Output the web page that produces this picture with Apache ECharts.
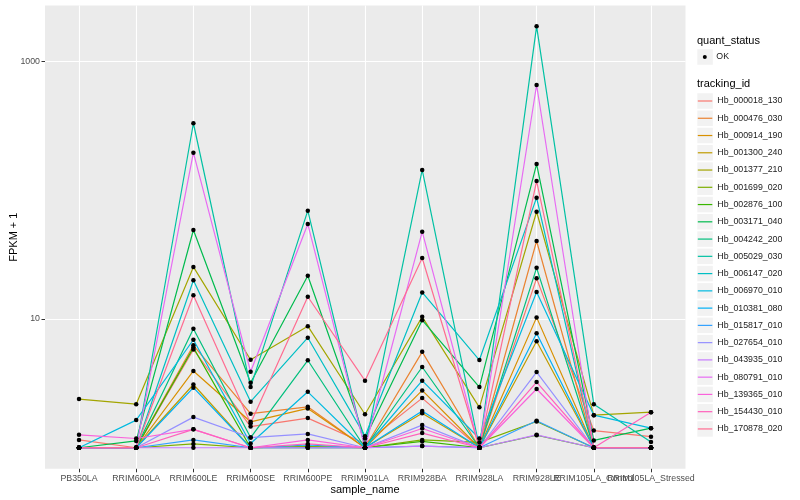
<!DOCTYPE html>
<html>
<head>
<meta charset="utf-8">
<script src="https://cdn.jsdelivr.net/npm/echarts@6.0.0/dist/echarts.min.js"></script>
<style>html,body{margin:0;padding:0;background:#fff}#c{width:800px;height:500px}</style>
</head>
<body>
<div id="c"></div>
<script>
var categories = ['PB350LA','RRIM600LA','RRIM600LE','RRIM600SE','RRIM600PE','RRIM901LA','RRIM928BA','RRIM928LA','RRIM928LE','RRIM105LA_Control','RRIM105LA_Stressed'];
var trackingIds = ['Hb_000018_130','Hb_000476_030','Hb_000914_190','Hb_001300_240','Hb_001377_210','Hb_001699_020','Hb_002876_100','Hb_003171_040','Hb_004242_200','Hb_005029_030','Hb_006147_020','Hb_006970_010','Hb_010381_080','Hb_015817_010','Hb_027654_010','Hb_043935_010','Hb_080791_010','Hb_139365_010','Hb_154430_010','Hb_170878_020'];
var colors = ['#F8766D','#EA8331','#D89000','#C09B00','#A3A500','#7CAE00','#39B600','#00BB4E','#00BF7D','#00C1A3','#00BFC4','#00BAE0','#00B0F6','#35A2FF','#9590FF','#C77CFF','#E76BF3','#FA62DB','#FF62BC','#FF6C91'];
var yTickLabels = [10, 1000];

var v_000018_130 = [1.15, 1.0, 5.8, 1.46, 1.70, 1.08, 2.43, 1.0, 20.7, 1.36, 1.22];
var v_000476_030 = [1.0, 1.0, 6.25, 1.84, 2.08, 1.0, 5.56, 1.0, 40.4, 1.0, 1.0];
var v_000914_190 = [1.0, 1.0, 3.95, 1.59, 2.02, 1.0, 2.79, 1.0, 10.3, 1.0, 1.0];
var v_001300_240 = [1.0, 1.0, 3.1, 1.0, 1.02, 1.0, 1.85, 1.0, 6.71, 1.0, 1.0];
var v_001377_210 = [2.39, 2.18, 25.4, 4.83, 8.8, 1.82, 10.4, 2.06, 68.2, 1.79, 1.89];
var v_001699_020 = [1.0, 1.0, 1.07, 1.0, 1.02, 1.0, 1.15, 1.1, 1.6, 1.0, 1.0];
var v_002876_100 = [1.0, 1.0, 6.0, 1.0, 1.0, 1.0, 1.12, 1.0, 1.25, 1.0, 1.0];
var v_003171_040 = [1.0, 1.13, 49.2, 3.2, 21.7, 1.18, 9.8, 2.96, 160, 1.14, 1.42];
var v_004242_200 = [1.0, 1.0, 8.4, 1.2, 4.78, 1.0, 4.24, 1.0, 25.0, 1.0, 1.0];
var v_005029_030 = [1.0, 1.0, 332, 2.96, 69.5, 1.0, 144, 1.0, 1881, 2.18, 1.11];
var v_006147_020 = [1.0, 1.0, 20.0, 2.28, 7.16, 1.23, 16.1, 4.8, 87.7, 1.0, 1.0];
var v_006970_010 = [1.0, 1.64, 6.9, 1.08, 2.72, 1.0, 3.32, 1.18, 16.2, 1.79, 1.42];
var v_010381_080 = [1.0, 1.0, 2.93, 1.0, 1.05, 1.0, 1.93, 1.0, 7.74, 1.0, 1.0];
var v_015817_010 = [1.0, 1.0, 1.15, 1.0, 1.0, 1.0, 1.03, 1.0, 1.62, 1.0, 1.0];
var v_027654_010 = [1.0, 1.0, 1.73, 1.2, 1.28, 1.0, 1.5, 1.0, 3.87, 1.0, 1.0];
var v_043935_010 = [1.0, 1.0, 1.0, 1.0, 1.0, 1.0, 1.03, 1.0, 1.26, 1.0, 1.0];
var v_080791_010 = [1.0, 1.0, 196, 3.9, 54.7, 1.0, 47.7, 1.0, 658, 1.0, 1.0];
var v_139365_010 = [1.26, 1.18, 1.39, 1.0, 1.15, 1.0, 1.41, 1.0, 2.86, 1.0, 1.0];
var v_154430_010 = [1.0, 1.0, 1.39, 1.0, 1.07, 1.0, 1.3, 1.0, 3.24, 1.0, 1.89];
var v_170878_020 = [1.0, 1.0, 15.3, 1.55, 14.9, 3.32, 29.8, 1.0, 118, 1.0, 1.0];

var seriesValues = [v_000018_130, v_000476_030, v_000914_190, v_001300_240, v_001377_210, v_001699_020, v_002876_100, v_003171_040, v_004242_200, v_005029_030, v_006147_020, v_006970_010, v_010381_080, v_015817_010, v_027654_010, v_043935_010, v_080791_010, v_139365_010, v_154430_010, v_170878_020];

var FONT = '"Liberation Sans", Arial, Helvetica, sans-serif';
var yMin = Math.pow(10, -0.1636), yMax = Math.pow(10, 3.436);

var series = [];
trackingIds.forEach(function (id, k) {
  series.push({
    name: id, type: 'line', xAxisIndex: 1, yAxisIndex: 1,
    data: seriesValues[k], showSymbol: false, symbol: 'none',
    color: colors[k], itemStyle: {color: colors[k]},
    lineStyle: {width: 1.2, color: colors[k]},
    emphasis: {disabled: true}, silent: true, z: 2
  });
});
var pts = [];
seriesValues.forEach(function (arr) { arr.forEach(function (v, i) { pts.push([i, v]); }); });
series.push({
  name: 'OK', type: 'scatter', xAxisIndex: 1, yAxisIndex: 1, data: pts,
  symbol: 'circle', symbolSize: 4.5, itemStyle: {color: '#000', opacity: 1}, color: '#000',
  emphasis: {disabled: true}, silent: true, z: 5
});

var itemH = 15.5, gap = 17.26 - 15.5;
var option = {
  animation: false,
  backgroundColor: '#ffffff',
  title: [
    {text: 'quant_status', left: 697, top: 34, padding: 0, textStyle: {fontFamily: FONT, fontSize: 11, fontWeight: 'normal', color: '#000', lineHeight: 13}},
    {text: 'tracking_id', left: 697, top: 77, padding: 0, textStyle: {fontFamily: FONT, fontSize: 11, fontWeight: 'normal', color: '#000', lineHeight: 13}}
  ],
  grid: [
    {left: 45, top: 5.5, width: 640.5, height: 463.3, show: true, backgroundColor: '#EBEBEB', borderWidth: 0, containLabel: false, outerBoundsMode: 'none'},
    {left: 50.4, top: 5.5, width: 629.2, height: 463.3, show: false, containLabel: false, outerBoundsMode: 'none'}
  ],
  legend: [
    {data: ['OK'], orient: 'vertical', left: 697.3, top: 57 - itemH / 2, padding: 0, icon: 'rect', itemWidth: itemH, itemHeight: itemH, itemGap: gap,
     itemStyle: {color: '#F2F2F2'}, formatter: function () { return ''; }, selectedMode: false, z: 3},
    {data: ['OK'], orient: 'vertical', left: 702.8, top: 57 - itemH / 2, padding: 0, icon: 'circle', itemWidth: 4, itemHeight: 4, itemGap: gap,
     itemStyle: {color: '#000', opacity: 1},
     textStyle: {fontFamily: FONT, fontSize: 8.8, color: '#1a1a1a', lineHeight: itemH, padding: [0, 0, 0, 4.5]}, selectedMode: false, z: 4},
    {data: trackingIds, orient: 'vertical', left: 697.3, top: 101 - itemH / 2, padding: 0, icon: 'rect', itemWidth: itemH, itemHeight: itemH, itemGap: gap,
     itemStyle: {color: '#F2F2F2'}, formatter: function () { return ''; }, selectedMode: false, z: 3},
    {data: trackingIds, orient: 'vertical', left: 697.8, top: 101 - itemH / 2, padding: 0, icon: 'rect', itemWidth: 14.5, itemHeight: 1.2, itemGap: gap,
     textStyle: {fontFamily: FONT, fontSize: 8.8, color: '#1a1a1a', lineHeight: itemH}, selectedMode: false, z: 4}
  ],
  xAxis: [
    {gridIndex: 0, type: 'value', min: 0, max: 1, show: false},
    {gridIndex: 1, type: 'category', data: categories, boundaryGap: true,
     axisLine: {show: false},
     axisTick: {show: true, alignWithLabel: true, length: 3.5, lineStyle: {color: '#333333', width: 1}},
     splitLine: {show: true, alignWithLabel: true, lineStyle: {color: '#ffffff', width: 1.1}},
     axisLabel: {interval: 0, margin: 5, fontFamily: FONT, fontSize: 8.8, color: '#4D4D4D', hideOverlap: false},
     name: 'sample_name', nameLocation: 'middle', nameGap: 15.5, nameMoveOverlap: false,
     nameTextStyle: {fontFamily: FONT, fontSize: 11, color: '#000'}}
  ],
  yAxis: [
    {gridIndex: 0, type: 'log', logBase: 10, min: yMin, max: yMax,
     axisLine: {show: false},
     axisTick: {show: true, length: 3.5, customValues: yTickLabels, lineStyle: {color: '#333333', width: 1}},
     splitLine: {show: true, lineStyle: {color: '#ffffff', width: 1.1}},
     axisLabel: {margin: 5, fontFamily: FONT, fontSize: 8.8, color: '#4D4D4D',
       formatter: function (v) {
         for (var i = 0; i < yTickLabels.length; i++) { if (Math.abs(v - yTickLabels[i]) < 1e-6 * yTickLabels[i]) return String(yTickLabels[i]); }
         return '';
       }},
     name: 'FPKM + 1', nameLocation: 'middle', nameGap: 26, nameRotate: 90, nameMoveOverlap: false,
     nameTextStyle: {fontFamily: FONT, fontSize: 11, color: '#000'}},
    {gridIndex: 1, type: 'log', logBase: 10, min: yMin, max: yMax, show: false}
  ],
  series: series
};
var chart = echarts.init(document.getElementById('c'), null, {renderer: 'canvas'});
chart.setOption(option);
</script>
</body>
</html>
